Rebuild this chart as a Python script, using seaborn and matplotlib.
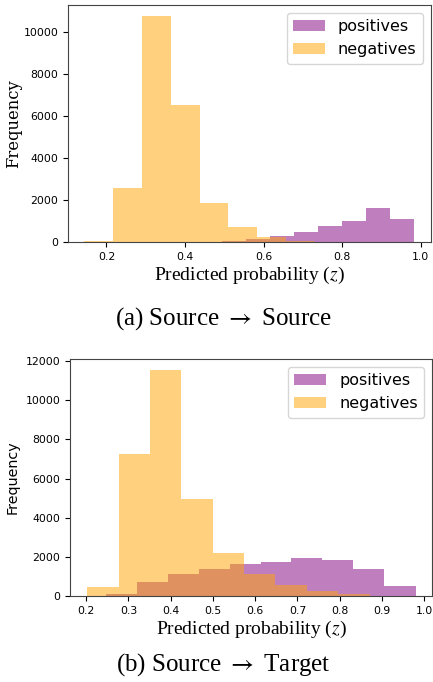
import numpy as np
import pandas as pd
import matplotlib
matplotlib.use('Agg')
import matplotlib.pyplot as plt
import seaborn as sns

plt.rcParams['mathtext.fontset'] = 'stix'

# Bin edges and counts
# (a) Source -> Source
pos_edges_a = [0.494, 0.556, 0.617, 0.678, 0.739, 0.800, 0.861, 0.922, 0.984]
pos_counts_a = [70, 160, 300, 490, 745, 1005, 1605, 1100]
neg_edges_a = [0.144, 0.217, 0.290, 0.364, 0.437, 0.510, 0.583, 0.656, 0.729]
neg_counts_a = [55, 2570, 10750, 6520, 1880, 715, 265, 70]

# (b) Source -> Target
pos_edges_b = [0.246, 0.320, 0.393, 0.467, 0.540, 0.613, 0.685, 0.759, 0.831, 0.906, 0.980]
pos_counts_b = [100, 700, 1110, 1370, 1640, 1750, 1920, 1846, 1385, 530]
neg_edges_b = [0.201, 0.277, 0.351, 0.425, 0.500, 0.574, 0.648, 0.722, 0.796, 0.872, 0.946]
neg_counts_b = [480, 7280, 11530, 4970, 2190, 1110, 545, 240, 100, 15]

captions = ['(a) Source $\\rightarrow$ Source', '(b) Source $\\rightarrow$ Target']


def to_frame(edges, counts):
    edges = np.asarray(edges)
    centers = (edges[:-1] + edges[1:]) / 2
    return pd.DataFrame({'z': centers, 'n': counts})


fig = plt.figure(figsize=(4.33, 6.82), dpi=100)
ax_a = fig.add_axes([0.157, 0.645, 0.838, 0.3475])
ax_b = fig.add_axes([0.162, 0.126, 0.836, 0.3475])

panels = [
    (ax_a, pos_edges_a, pos_counts_a, neg_edges_a, neg_counts_a),
    (ax_b, pos_edges_b, pos_counts_b, neg_edges_b, neg_counts_b),
]

for ax, pe, pc, ne, nc in panels:
    sns.histplot(data=to_frame(pe, pc), x='z', weights='n', bins=pe, ax=ax,
                 color='purple', alpha=0.5, linewidth=0, label='positives')
    sns.histplot(data=to_frame(ne, nc), x='z', weights='n', bins=ne, ax=ax,
                 color='orange', alpha=0.5, linewidth=0, label='negatives')
    ax.margins(x=0.05, y=0.05)
    ax.tick_params(labelsize=7.8)
    ax.set_xticks([0.2, 0.4, 0.6, 0.8, 1.0] if ax is ax_a
                  else [0.2, 0.3, 0.4, 0.5, 0.6, 0.7, 0.8, 0.9, 1.0])
    ax.set_xlabel('Predicted probability ($z$)', family='Liberation Serif',
                  fontsize=14, labelpad=2)
    ax.legend(loc='upper right', fontsize=11.5)
    for s in ax.spines.values():
        s.set_color('#444444')

ax_a.set_ylabel('Frequency', family='DejaVu Serif', fontsize=11.8, labelpad=1)
ax_b.set_ylabel('Frequency', family='DejaVu Sans', fontsize=10.3)

fig.text(0.517, 0.5235, captions[0], family='Liberation Serif', fontsize=18,
         ha='center', va='baseline')
fig.text(0.515, 0.017, captions[1], family='Liberation Serif', fontsize=18,
         ha='center', va='baseline')

fig.savefig('out.png', dpi=100)
